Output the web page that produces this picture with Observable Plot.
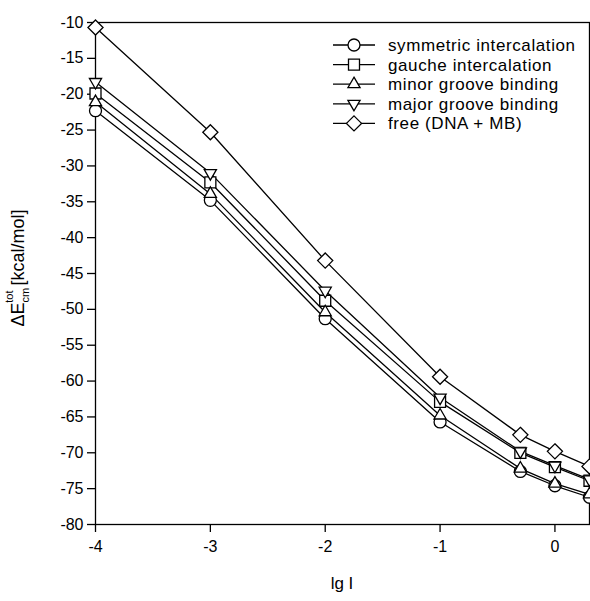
<!DOCTYPE html>
<html><head><meta charset="utf-8">
<script src="https://cdn.jsdelivr.net/npm/d3@7"></script>
<script src="https://cdn.jsdelivr.net/npm/@observablehq/plot@0.6"></script>
<style>body{margin:0;background:#fff;} svg{display:block;}</style>
</head><body><div id="chart"></div>
<script>
const lgI = [-4, -3, -2, -1, -0.301, 0, 0.301];
const seriesNames = ["symmetric intercalation", "gauche intercalation", "minor groove binding", "major groove binding", "free (DNA + MB)"];
const symmetricVals = [-22.3, -34.8, -51.3, -65.7, -72.6, -74.6, -76.2];
const gaucheVals    = [-19.9, -32.3, -48.8, -62.9, -70.0, -72.0, -73.9];
const minorVals     = [-21.1, -33.9, -50.4, -64.8, -72.2, -74.3, -75.8];
const majorVals     = [-18.3, -31.0, -47.4, -62.3, -69.8, -71.8, -73.7];
const freeVals      = [-10.7, -25.3, -43.2, -59.4, -67.5, -69.8, -71.9];
const xTicks = [-4, -3, -2, -1, 0];
const yTicks = [-80, -75, -70, -65, -60, -55, -50, -45, -40, -35, -30, -25, -20, -15, -10];
const xTitle = "lg I";

const allVals = [symmetricVals, gaucheVals, minorVals, majorVals, freeVals];

const triangleDown = {
  draw(context, size) {
    const s = Math.sqrt(size) * 0.6824, t = s / 2, u = s * Math.sqrt(3) / 2;
    context.moveTo(0, s); context.lineTo(-u, -t); context.lineTo(u, -t); context.closePath();
  }
};
const d3Symbols = [d3.symbolCircle, d3.symbolSquare, d3.symbolTriangle2, triangleDown, d3.symbolDiamond2];
const radii = [6, 6.2, 5.8, 5.8, 6.8];

const rows = [];
allVals.forEach((vals, i) => vals.forEach((v, j) => rows.push({series: seriesNames[i], idx: i, x: lgI[j], y: v})));

const FONT = "'Liberation Sans', Arial, Helvetica, sans-serif";

const plot = Plot.plot({
  width: 590, height: 601,
  marginTop: 22, marginBottom: 77, marginLeft: 95, marginRight: 1,
  style: {fontFamily: FONT, fontSize: "16px", color: "black", background: "white", overflow: "visible"},
  x: {domain: [-4, 0.301]},
  y: {domain: [-80, -10]},
  marks: [
    Plot.frame({stroke: "black", strokeWidth: 1.3}),
    Plot.axisX({ticks: xTicks, tickSize: 8, tickPadding: 8, tickFormat: d => String(d), label: null, strokeWidth: 1.3}),
    Plot.axisY({ticks: yTicks, tickSize: 8, tickPadding: 4, tickFormat: d => String(d), label: null, strokeWidth: 1.3}),
    Plot.line(rows, {x: "x", y: "y", z: "series", stroke: "black", strokeWidth: 1.3}),
    ...seriesNames.map((name, i) => Plot.dot(rows.filter(r => r.idx === i), {
      x: "x", y: "y", symbol: d3Symbols[i], r: radii[i], fill: "white", stroke: "black", strokeWidth: 1.3
    }))
  ]
});

const svg = d3.select(plot);
// Y title
const yt = svg.append("text")
  .attr("transform", "translate(24,268) rotate(-90)")
  .attr("text-anchor", "middle")
  .attr("font-family", FONT).attr("font-size", 18).attr("fill", "black");
yt.append("tspan").text("\u0394E");
yt.append("tspan").attr("font-size", 11).attr("dy", 5).text("cm");
yt.append("tspan").attr("font-size", 11).attr("dx", -15).attr("dy", -16).text("tot");
yt.append("tspan").attr("dy", 11).text(" [kcal/mol]");
// X title
svg.append("text").attr("x", 342).attr("y", 589).attr("text-anchor", "middle")
  .attr("font-family", FONT).attr("font-size", 17).attr("fill", "black").text(xTitle);

// Legend
const lg = svg.append("g").attr("font-family", FONT).attr("font-size", 17).attr("text-anchor", "start");
seriesNames.forEach((name, i) => {
  const y = 45 + i * 19.6;
  lg.append("line").attr("x1", 333).attr("x2", 375).attr("y1", y).attr("y2", y).attr("stroke", "black").attr("stroke-width", 1.3);
  lg.append("path").attr("transform", `translate(354,${y})`)
    .attr("d", d3.symbol(d3Symbols[i], Math.PI * radii[i] * radii[i])())
    .attr("fill", "white").attr("stroke", "black").attr("stroke-width", 1.3);
  lg.append("text").attr("x", 388).attr("y", y).attr("dy", "0.35em").attr("fill", "black")
    .attr("letter-spacing", "0.6px").text(name);
});

document.getElementById("chart").appendChild(plot);
</script>
</body></html>
